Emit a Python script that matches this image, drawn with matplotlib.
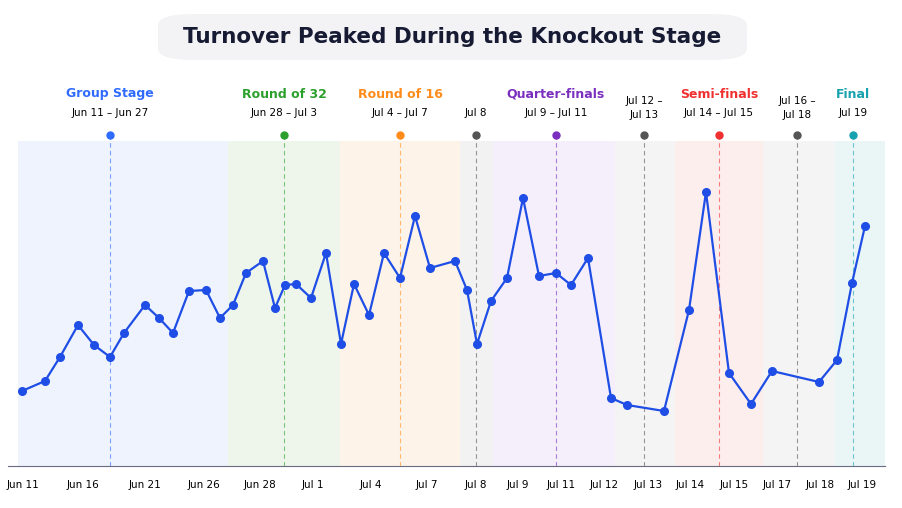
import matplotlib
matplotlib.use("Agg")
import matplotlib.pyplot as plt
from matplotlib.patches import FancyBboxPatch

# match slot positions (horizontal) and turnover (relative units)
slots = [22, 45, 60, 78, 94, 110, 124, 145, 159, 173, 189, 206, 220, 233, 246, 263, 275, 285, 296, 311,
         326, 341, 354, 369, 384, 400, 415, 430, 455, 467, 477, 491, 507, 523, 539, 556, 571, 588, 611, 627,
         664, 689, 706, 729, 751, 772, 819, 837, 852, 865]
pix_y = [390, 380, 356, 324, 344, 356, 332, 304, 317, 332, 290, 289, 317, 304, 272, 260, 307, 284, 283, 297,
         252, 343, 283, 314, 252, 277, 215, 267, 260, 289, 343, 300, 277, 197, 275, 272, 284, 257, 397, 404,
         410, 309, 191, 372, 403, 370, 381, 359, 282, 225]
turnover = [465 - v for v in pix_y]

tick_pos = [23, 83, 145, 204, 260, 313, 371, 427, 476, 518, 561, 604, 648, 690, 734, 777, 820, 862]
tick_labels = ["Jun 11", "Jun 16", "Jun 21", "Jun 26", "Jun 28", "Jul 1", "Jul 4", "Jul 7", "Jul 8",
               "Jul 9", "Jul 11", "Jul 12", "Jul 13", "Jul 14", "Jul 15", "Jul 17", "Jul 18", "Jul 19"]

stage_names = ["Group Stage", "Round of 32", "Round of 16", "", "Quarter-finals", "", "Semi-finals", "", "Final"]
stage_dates = ["Jun 11 – Jun 27", "Jun 28 – Jul 3", "Jul 4 – Jul 7", "Jul 8", "Jul 9 – Jul 11",
               "Jul 12 –\nJul 13", "Jul 14 – Jul 15", "Jul 16 –\nJul 18", "Jul 19"]
stage_start = [18, 228, 340, 460, 493, 615, 675, 763, 835]
stage_end = [228, 340, 460, 493, 615, 675, 763, 835, 885]
stage_mark = [110, 284, 400, 476, 556, 644, 719, 797, 853]
stage_colors = ["#2f6bff", "#2ca02c", "#ff8c1a", "#555555", "#7b2fbf", "#555555", "#f03030", "#555555", "#17a2b0"]
band_colors = ["#eef3fd", "#eef6ec", "#fdf3e8", "#f2f2f2", "#f4effa", "#f4f4f4", "#fdeeee", "#f4f4f4", "#eaf6f6"]

fig = plt.figure(figsize=(9.03, 5.08), dpi=100)
ax = fig.add_axes([8 / 903, 1 - 466 / 508, 877 / 903, 346 / 508])
ax.set_xlim(8, 885)
ax.set_ylim(0, 346)

for s, e, c in zip(stage_start, stage_end, band_colors):
    ax.axvspan(s, e, ymin=0, ymax=325 / 346, color=c, lw=0, zorder=0)

for m, c, name, d in zip(stage_mark, stage_colors, stage_names, stage_dates):
    ax.plot([m, m], [0, 331], ls=(0, (4, 3)), lw=0.8, color=c, alpha=0.6, zorder=1)
    ax.plot(m, 331, "o", ms=5, color=c, zorder=3, clip_on=False)
    if name:
        fig.text(m / 903, 1 - 94 / 508, name, color=c, fontsize=9, fontweight="bold", ha="center", va="center")
    if "\n" in d:
        fig.text(m / 903, 1 - 108 / 508, d, fontsize=7.5, ha="center", va="center", linespacing=1.6)
    else:
        fig.text(m / 903, 1 - 113 / 508, d, fontsize=7.5, ha="center", va="center")

ax.plot(slots, turnover, "-o", color="#1f4ee6", lw=1.6, ms=5.5, zorder=4)

ax.set_yticks([])
ax.set_xticks(tick_pos)
ax.set_xticklabels(tick_labels, fontsize=7.5)
ax.tick_params(axis="x", length=0, pad=10)
for sp in ["top", "right", "left"]:
    ax.spines[sp].set_visible(False)
ax.spines["bottom"].set_color("#6a6a80")

box = FancyBboxPatch((158 / 903, 1 - 60 / 508), 589 / 903, 46 / 508, transform=fig.transFigure,
                     boxstyle="round,pad=0,rounding_size=0.04", fc="#f3f3f5", ec="none",
                     mutation_aspect=508 / 903)
fig.patches.append(box)
fig.text(452 / 903, 1 - 37 / 508, "Turnover Peaked During the Knockout Stage", fontsize=15.5,
         fontweight="bold", color="#161a33", ha="center", va="center")

fig.savefig("out.png", dpi=100)
